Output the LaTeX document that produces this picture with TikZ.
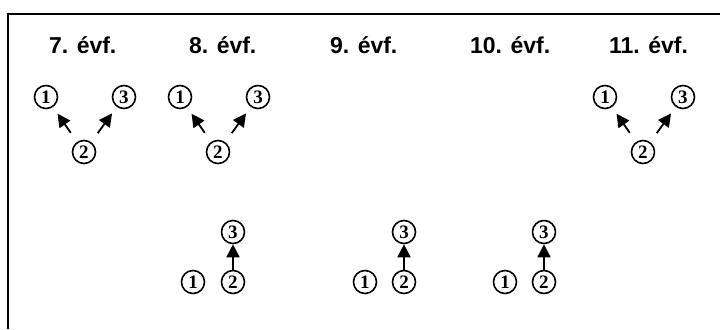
\documentclass[tikz,border=0pt]{standalone}
\usepackage{fontspec}
\setmainfont{Liberation Serif}
\newfontfamily\headfont{Liberation Sans}
\usepackage{tikz}
\usetikzlibrary{arrows.meta}
\tikzstyle{num} = [circle,draw,line width=0.8pt,minimum size=11.5pt,inner sep=0pt,font=\fontsize{9.5}{9.5}\selectfont\bfseries]
\tikzstyle{head} = [anchor=base west,font=\fontsize{11.5}{11.5}\selectfont\headfont\bfseries]
\tikzstyle{pointer} = [line width=0.9pt,-{Triangle[length=6.5pt,width=6.5pt]}]
\tikzstyle{tilt} = [pointer,shorten <=5.5pt,shorten >=4pt]

\begin{document}
\begin{tikzpicture}[x=0.5pt,y=-0.5pt]
    \useasboundingbox (0,0) rectangle (720,329);
    % frame
    \draw[line width=1pt] (8,329) -- (8,14) -- (720,14);
    % headings
    \node[head] (h7) at (42,53) {7. évf.};
    \node[head] (h8) at (182,53) {8. évf.};
    \node[head] (h9) at (323,53) {9. évf.};
    \node[head] (h10) at (463,53) {10. évf.};
    \node[head] (h11) at (602,53) {11. évf.};
    % upper row
        \node[num] (a1) at (46,97) {1};
        \node[num] (a3) at (124,97) {3};
        \node[num] (a2) at (84,152) {2};
        \draw[tilt] (a2) -- (a1);
        \draw[tilt] (a2) -- (a3);
        \node[num] (b1) at (180,97) {1};
        \node[num] (b3) at (258,97) {3};
        \node[num] (b2) at (218,152) {2};
        \draw[tilt] (b2) -- (b1);
        \draw[tilt] (b2) -- (b3);
        \node[num] (e1) at (605,97) {1};
        \node[num] (e3) at (683,97) {3};
        \node[num] (e2) at (643,152) {2};
        \draw[tilt] (e2) -- (e1);
        \draw[tilt] (e2) -- (e3);
    % lower row
        \node[num] (c3) at (233,232) {3};
        \node[num] (c1) at (193,282) {1};
        \node[num] (c2) at (233,282) {2};
        \draw[pointer] (c2) -- (c3);
        \node[num] (d3) at (404,232) {3};
        \node[num] (d1) at (365,282) {1};
        \node[num] (d2) at (404,282) {2};
        \draw[pointer] (d2) -- (d3);
        \node[num] (f3) at (544,232) {3};
        \node[num] (f1) at (505,282) {1};
        \node[num] (f2) at (544,282) {2};
        \draw[pointer] (f2) -- (f3);
\end{tikzpicture}
\end{document}
